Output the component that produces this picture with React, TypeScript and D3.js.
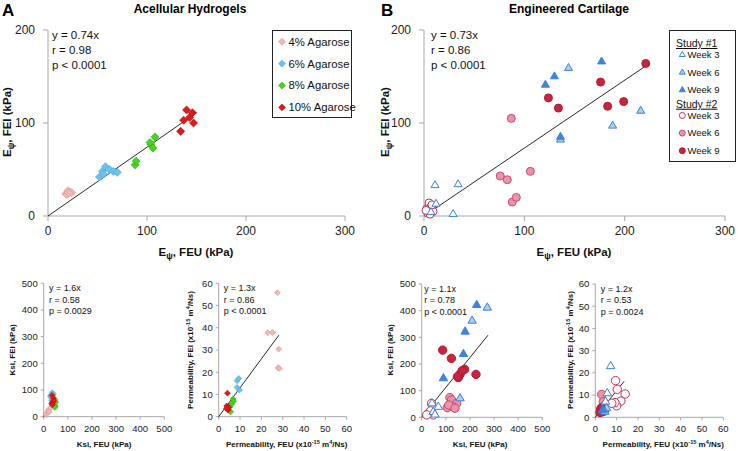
import React from 'react';
import * as d3 from 'd3';

type Pt = [number, number];

// ---------- Labels ----------
const agaroseLabels = ['4% Agarose', '6% Agarose', '8% Agarose', '10% Agarose'];
const studyLabels = ['Study #1', 'Study #2'];
const weekLabels = ['Week 3', 'Week 6', 'Week 9'];

// ---------- Ticks ----------
const eyXTicks = [0, 100, 200, 300];
const eyYTicks = [0, 100, 200];
const ksiTicks = [0, 100, 200, 300, 400, 500];
const permTicks = [0, 10, 20, 30, 40, 50, 60];

// ---------- Panel A: Ey (Acellular) ----------
const eyAg4: Pt[] = [[18, 24], [20, 27], [22, 26], [24, 25], [19, 23], [21, 25]];
const eyAg6: Pt[] = [[52, 42], [55, 48], [58, 53], [62, 50], [66, 48], [70, 47], [56, 45]];
const eyAg8: Pt[] = [[88, 55], [89, 59], [104, 77], [108, 85], [106, 73], [103, 79]];
const eyAg10: Pt[] = [[134, 91], [137, 103], [140, 114], [146, 111], [147, 100], [143, 106]];
const eyStatsA = ['y = 0.74x', 'r = 0.98', 'p < 0.0001'];
const eyFitA = { slope: 0.74, xEnd: 150 };

// ---------- Panel B: Ey (Engineered) ----------
const eyS1W3: Pt[] = [[11, 33], [34, 34], [12, 13], [29, 2], [7, 4]];
const eyS1W6: Pt[] = [[144, 159], [216, 113], [188, 97], [136, 82]];
const eyS1W9: Pt[] = [[121, 141], [130, 150], [177, 166], [136, 85]];
const eyS2W3: Pt[] = [[3, 8], [5, 14], [7, 10], [4, 3], [9, 5], [6, 2], [2, 6], [8, 12]];
const eyS2W6: Pt[] = [[87, 105], [76, 43], [83, 39], [106, 48], [88, 15], [92, 20]];
const eyS2W9: Pt[] = [[124, 127], [134, 116], [176, 144], [183, 118], [199, 123], [221, 164]];
const eyStatsB = ['y = 0.73x', 'r = 0.86', 'p < 0.0001'];
const eyFitB = { slope: 0.73, xEnd: 220 };

// ---------- Ksi (Acellular) ----------
const ksiAg4: Pt[] = [[15, 15], [20, 25], [10, 8], [25, 30], [18, 20], [22, 18]];
const ksiAg6: Pt[] = [[35, 90], [30, 80], [38, 70], [32, 62], [40, 85], [28, 75]];
const ksiAg8: Pt[] = [[45, 65], [50, 55], [42, 45], [48, 40], [40, 50], [46, 35]];
const ksiAg10: Pt[] = [[35, 80], [40, 70], [38, 55], [33, 50], [42, 60], [36, 45]];
const ksiStatsA = ['y = 1.6x', 'r = 0.58', 'p = 0.0029'];
const ksiFitA = { slope: 1.6, xEnd: 45 };

// ---------- Permeability (Acellular) ----------
const permAg4: Pt[] = [[27.5, 55.8], [23.0, 37.8], [25.2, 37.9], [28.1, 30.4], [27.8, 22.0], [28.4, 21.7]];
const permAg6: Pt[] = [[8.6, 16.2], [9.4, 17.2], [8.6, 13.2], [9.7, 12.0]];
const permAg8: Pt[] = [[6.7, 8.0], [6.1, 5.7], [5.6, 2.2], [7.0, 7.0], [5.3, 4.5]];
const permAg10: Pt[] = [[4.1, 10.6], [3.75, 4.8], [4.4, 3.0], [4.7, 4.2], [3.6, 3.7]];
const permStatsA = ['y = 1.3x', 'r = 0.86', 'p < 0.0001'];
const permFitA = { slope: 1.3, xEnd: 28.2 };

// ---------- Ksi (Engineered) ----------
const ksiS1W3: Pt[] = [[43, 52], [69, 39], [48, 20], [55, 10]];
const ksiS1W6: Pt[] = [[272, 411], [209, 362], [159, 71]];
const ksiS1W9: Pt[] = [[228, 421], [180, 321], [173, 237], [90, 146]];
const ksiS2W3: Pt[] = [[41, 52], [28, 15], [37, 24], [48, 9], [21, 9]];
const ksiS2W6: Pt[] = [[117, 74], [124, 65], [106, 36], [145, 52], [131, 39], [112, 46], [138, 34]];
const ksiS2W9: Pt[] = [[87, 252], [123, 221], [178, 180], [159, 162], [152, 149], [225, 161], [148, 152], [168, 175]];
const ksiStatsB = ['y = 1.1x', 'r = 0.78', 'p < 0.0001'];
const ksiFitB = { slope: 1.12, xEnd: 275 };

// ---------- Permeability (Engineered) ----------
const permS1W3: Pt[] = [[7.2, 23], [5.6, 10.8], [4.8, 7]];
const permS1W6: Pt[] = [[5.3, 4], [4.5, 2.5]];
const permS1W9: Pt[] = [[3.5, 3.2]];
const permS2W3: Pt[] = [[9.5, 16.5], [10.3, 12.6], [14, 10.5], [12, 7.3], [10, 5.2], [9.2, 6.6], [7.7, 6.3]];
const permS2W6: Pt[] = [[3, 10.3], [3.75, 7]];
const permS2W9: Pt[] = [[2.5, 3.5], [3.2, 2.5], [2.8, 4.2], [3.8, 3.0], [2.2, 2.2], [3.5, 4.5], [4.2, 2.8]];
const permStatsB = ['y = 1.2x', 'r = 0.53', 'p = 0.0024'];
const permFitB = { slope: 1.2, xEnd: 13.5 };

// ---------- Styles ----------
type Mk = { shape: 'diamond' | 'triangle' | 'circle'; fill: string; stroke: string };
const mkAg4: Mk = { shape: 'diamond', fill: '#f3b8b0', stroke: '#d89a92' };
const mkAg6: Mk = { shape: 'diamond', fill: '#6cc4ee', stroke: '#4aa6d6' };
const mkAg8: Mk = { shape: 'diamond', fill: '#44d61e', stroke: '#32b014' };
const mkAg10: Mk = { shape: 'diamond', fill: '#e01818', stroke: '#b41010' };
const mkS1W3: Mk = { shape: 'triangle', fill: '#ffffff', stroke: '#3d82d8' };
const mkS1W6: Mk = { shape: 'triangle', fill: '#a9cff3', stroke: '#3d82d8' };
const mkS1W9: Mk = { shape: 'triangle', fill: '#3d85dc', stroke: '#3d85dc' };
const mkS2W3: Mk = { shape: 'circle', fill: '#ffffff', stroke: '#c8304e' };
const mkS2W6: Mk = { shape: 'circle', fill: '#e895ab', stroke: '#c84a6a' };
const mkS2W9: Mk = { shape: 'circle', fill: '#c8243e', stroke: '#b01c34' };

const FONT = '"Liberation Sans", Arial, sans-serif';
const AXIS = '#a8a8a8';

function markerPath(shape: Mk['shape'], s: number): string {
  if (shape === 'diamond') {
    return d3.symbol().type(d3.symbolSquare).size(s * s * 2)() as string;
  }
  if (shape === 'triangle') {
    return d3.symbol().type(d3.symbolTriangle).size((Math.sqrt(3) / 4) * (2 * s) * (2 * s))() as string;
  }
  return d3.symbol().type(d3.symbolCircle).size(Math.PI * s * s)() as string;
}

function Marker({ mk, x, y, s }: { mk: Mk; x: number; y: number; s: number }) {
  const rot = mk.shape === 'diamond' ? ' rotate(45)' : '';
  return (
    <path
      d={markerPath(mk.shape, mk.shape === 'diamond' ? s / Math.SQRT2 : s)}
      transform={`translate(${x},${y})${rot}`}
      fill={mk.fill}
      stroke={mk.stroke}
      strokeWidth={mk.shape === 'diamond' ? 0.6 : 1}
    />
  );
}

type Series = { data: Pt[]; mk: Mk };

type PanelProps = {
  px: [number, number];
  py: [number, number];
  xDomain: [number, number];
  yDomain: [number, number];
  xTicks: number[];
  yTicks: number[];
  series: Series[];
  fit: { slope: number; xEnd: number };
  stats: string[];
  statsPos: [number, number];
  statsGap: number;
  statsSize: number;
  tickSize: number;
  tickLen: number;
  ms: number;
  xTitle: React.ReactNode;
  yTitle: React.ReactNode;
  xTitlePos: [number, number];
  yTitlePos: [number, number];
  titleSize: number;
  xLabelGap: number;
  yLabelGap: number;
};

function Panel(p: PanelProps) {
  const x = d3.scaleLinear().domain(p.xDomain).range(p.px);
  const y = d3.scaleLinear().domain(p.yDomain).range(p.py);
  const line = d3.line<Pt>().x((d) => x(d[0])).y((d) => y(d[1]));
  const fitPts: Pt[] = [[0, 0], [p.fit.xEnd, p.fit.slope * p.fit.xEnd]];
  return (
    <g fontFamily={FONT}>
      <line x1={x(p.xDomain[0])} x2={x(p.xDomain[1])} y1={y(0)} y2={y(0)} stroke={AXIS} strokeWidth={1} />
      <line x1={x(0)} x2={x(0)} y1={y(p.yDomain[0])} y2={y(p.yDomain[1])} stroke={AXIS} strokeWidth={1} />
      {p.xTicks.map((t) => (
        <g key={'xt' + t}>
          <line x1={x(t)} x2={x(t)} y1={y(0)} y2={y(0) + p.tickLen} stroke={AXIS} />
          <text x={x(t)} y={y(0) + p.xLabelGap} textAnchor="middle" fontSize={p.tickSize} fill="#222">
            {t}
          </text>
        </g>
      ))}
      {p.yTicks.map((t) => (
        <g key={'yt' + t}>
          <line x1={x(0) - p.tickLen} x2={x(0)} y1={y(t)} y2={y(t)} stroke={AXIS} />
          <text x={x(0) - p.yLabelGap} y={y(t)} dy="0.35em" textAnchor="end" fontSize={p.tickSize} fill="#222">
            {t}
          </text>
        </g>
      ))}
      <path d={line(fitPts) as string} stroke="#111" strokeWidth={0.9} fill="none" />
      {p.series.map((s, i) => (
        <g key={'s' + i}>
          {s.data.map((d, j) => (
            <Marker key={j} mk={s.mk} x={x(d[0])} y={y(d[1])} s={p.ms} />
          ))}
        </g>
      ))}
      {p.stats.map((t, i) => (
        <text key={'st' + i} x={p.statsPos[0]} y={p.statsPos[1] + i * p.statsGap} fontSize={p.statsSize} fill="#111">
          {t}
        </text>
      ))}
      <text x={p.xTitlePos[0]} y={p.xTitlePos[1]} textAnchor="middle" fontSize={p.titleSize} fontWeight="bold" fill="#111">
        {p.xTitle}
      </text>
      <text
        transform={`translate(${p.yTitlePos[0]},${p.yTitlePos[1]}) rotate(-90)`}
        textAnchor="middle"
        fontSize={p.titleSize}
        fontWeight="bold"
        fill="#111"
      >
        {p.yTitle}
      </text>
    </g>
  );
}

function EyTitle({ kind }: { kind: string }) {
  return (
    <>
      <tspan>E</tspan>
      <tspan dy={3} fontSize="0.75em">ψ</tspan>
      <tspan dy={-3}>{`, ${kind} (kPa)`}</tspan>
    </>
  );
}

function PermTitle({ kind }: { kind: string }) {
  return (
    <>
      <tspan>{`Permeability, ${kind} (x10`}</tspan>
      <tspan dy={-3} fontSize="0.7em">-15</tspan>
      <tspan dy={3}> m</tspan>
      <tspan dy={-3} fontSize="0.7em">4</tspan>
      <tspan dy={3}>/Ns)</tspan>
    </>
  );
}

export default function App() {
  const agMks = [mkAg4, mkAg6, mkAg8, mkAg10];
  const s1Mks = [mkS1W3, mkS1W6, mkS1W9];
  const s2Mks = [mkS2W3, mkS2W6, mkS2W9];

  const mainCommon = {
    xDomain: [0, 300] as [number, number],
    yDomain: [0, 200] as [number, number],
    xTicks: eyXTicks,
    yTicks: eyYTicks,
    statsGap: 15,
    statsSize: 11.5,
    tickSize: 12,
    tickLen: 5,
    titleSize: 11.5,
    xLabelGap: 19,
    yLabelGap: 13,
  };
  const smallCommon = {
    statsGap: 11.5,
    statsSize: 9,
    tickSize: 9.5,
    tickLen: 3,
    titleSize: 8,
    xLabelGap: 15,
    yLabelGap: 6,
    ms: 4.2,
  };

  return (
    <svg width={741} height={451} style={{ position: 'absolute', left: 0, top: 0, background: '#fff' }}>
      <rect width={741} height={451} fill="#fff" />
      <g fontFamily={FONT}>
        <text x={2} y={15.5} fontSize={17} fontWeight="bold">A</text>
        <text x={381} y={15.5} fontSize={17} fontWeight="bold">B</text>
        <text x={190} y={13} textAnchor="middle" fontSize={12} fontWeight="bold">Acellular Hydrogels</text>
        <text x={569} y={13} textAnchor="middle" fontSize={12} fontWeight="bold">Engineered Cartilage</text>
      </g>

      <Panel
        {...mainCommon}
        px={[48, 345]}
        py={[216, 30]}
        series={[
          { data: eyAg4, mk: mkAg4 },
          { data: eyAg6, mk: mkAg6 },
          { data: eyAg8, mk: mkAg8 },
          { data: eyAg10, mk: mkAg10 },
        ]}
        fit={eyFitA}
        stats={eyStatsA}
        statsPos={[52, 39]}
        ms={5.7}
        xTitle={<EyTitle kind="FEU" />}
        yTitle={<EyTitle kind="FEI" />}
        xTitlePos={[196, 256]}
        yTitlePos={[11, 122]}
      />

      <Panel
        {...mainCommon}
        px={[424, 725]}
        py={[216, 30]}
        series={[
          { data: eyS2W3, mk: mkS2W3 },
          { data: eyS2W6, mk: mkS2W6 },
          { data: eyS2W9, mk: mkS2W9 },
          { data: eyS1W3, mk: mkS1W3 },
          { data: eyS1W6, mk: mkS1W6 },
          { data: eyS1W9, mk: mkS1W9 },
        ]}
        fit={eyFitB}
        stats={eyStatsB}
        statsPos={[431, 39]}
        ms={4}
        xTitle={<EyTitle kind="FEU" />}
        yTitle={<EyTitle kind="FEI" />}
        xTitlePos={[574, 256]}
        yTitlePos={[389, 122]}
      />

      {/* Legend A */}
      <g fontFamily={FONT}>
        <rect x={272.5} y={30.5} width={79} height={87} fill="#fff" stroke="#222" strokeWidth={1} />
        {agaroseLabels.map((l, i) => (
          <g key={l}>
            <Marker mk={agMks[i]} x={282} y={41.7 + i * 21.9} s={4.8} />
            <text x={288.5} y={41.7 + i * 21.9} dy="0.35em" fontSize={11.3} fill="#111">{l}</text>
          </g>
        ))}
      </g>

      {/* Legend B */}
      <g fontFamily={FONT}>
        <rect x={669.5} y={30.5} width={66} height={131} fill="#fff" stroke="#222" strokeWidth={1} />
        {studyLabels.map((st, k) => {
          const base = 43.3 + k * 60.7;
          const mks = k === 0 ? s1Mks : s2Mks;
          return (
            <g key={st}>
              <text x={676} y={base} dy="0.35em" fontSize={10.5} fill="#111" textDecoration="underline">{st}</text>
              {weekLabels.map((w, i) => (
                <g key={w}>
                  <Marker mk={mks[i]} x={682.3} y={base + 11.5 + i * 17.6} s={3} />
                  <text x={687.5} y={base + 11.5 + i * 17.6} dy="0.35em" fontSize={9.5} fill="#111">{w}</text>
                </g>
              ))}
            </g>
          );
        })}
      </g>

      <Panel
        {...smallCommon}
        px={[43.7, 164.3]}
        py={[416.7, 283.3]}
        xDomain={[0, 500]}
        yDomain={[0, 500]}
        xTicks={ksiTicks}
        yTicks={ksiTicks}
        series={[
          { data: ksiAg4, mk: mkAg4 },
          { data: ksiAg6, mk: mkAg6 },
          { data: ksiAg8, mk: mkAg8 },
          { data: ksiAg10, mk: mkAg10 },
        ]}
        fit={ksiFitA}
        stats={ksiStatsA}
        statsPos={[49, 291]}
        xTitle="Ksi, FEU (kPa)"
        yTitle="Ksi, FEI (kPa)"
        xTitlePos={[104, 447]}
        yTitlePos={[14.5, 350]}
      />

      <Panel
        {...smallCommon}
        px={[218.7, 346.7]}
        py={[416.7, 283.3]}
        xDomain={[0, 60]}
        yDomain={[0, 60]}
        xTicks={permTicks}
        yTicks={permTicks}
        series={[
          { data: permAg4, mk: mkAg4 },
          { data: permAg6, mk: mkAg6 },
          { data: permAg8, mk: mkAg8 },
          { data: permAg10, mk: mkAg10 },
        ]}
        fit={permFitA}
        stats={permStatsA}
        statsPos={[223.7, 291]}
        xTitle={<PermTitle kind="FEU" />}
        yTitle={<PermTitle kind="FEI" />}
        xTitlePos={[286.7, 447]}
        yTitlePos={[193, 350]}
      />

      <Panel
        {...smallCommon}
        px={[421.7, 542.3]}
        py={[417.3, 284]}
        xDomain={[0, 500]}
        yDomain={[0, 500]}
        xTicks={ksiTicks}
        yTicks={ksiTicks}
        series={[
          { data: ksiS2W3, mk: mkS2W3 },
          { data: ksiS2W6, mk: mkS2W6 },
          { data: ksiS2W9, mk: mkS2W9 },
          { data: ksiS1W3, mk: mkS1W3 },
          { data: ksiS1W6, mk: mkS1W6 },
          { data: ksiS1W9, mk: mkS1W9 },
        ]}
        fit={ksiFitB}
        stats={ksiStatsB}
        statsPos={[424.3, 291.5]}
        xTitle="Ksi, FEU (kPa)"
        yTitle="Ksi, FEI (kPa)"
        xTitlePos={[480, 447]}
        yTitlePos={[393, 350]}
      />

      <Panel
        {...smallCommon}
        px={[595.3, 723.3]}
        py={[417.3, 284]}
        xDomain={[0, 60]}
        yDomain={[0, 60]}
        xTicks={permTicks}
        yTicks={permTicks}
        series={[
          { data: permS2W3, mk: mkS2W3 },
          { data: permS2W6, mk: mkS2W6 },
          { data: permS2W9, mk: mkS2W9 },
          { data: permS1W3, mk: mkS1W3 },
          { data: permS1W6, mk: mkS1W6 },
          { data: permS1W9, mk: mkS1W9 },
        ]}
        fit={permFitB}
        stats={permStatsB}
        statsPos={[600.7, 291.5]}
        xTitle={<PermTitle kind="FEU" />}
        yTitle={<PermTitle kind="FEI" />}
        xTitlePos={[663.3, 447]}
        yTitlePos={[573, 350]}
      />
    </svg>
  );
}
